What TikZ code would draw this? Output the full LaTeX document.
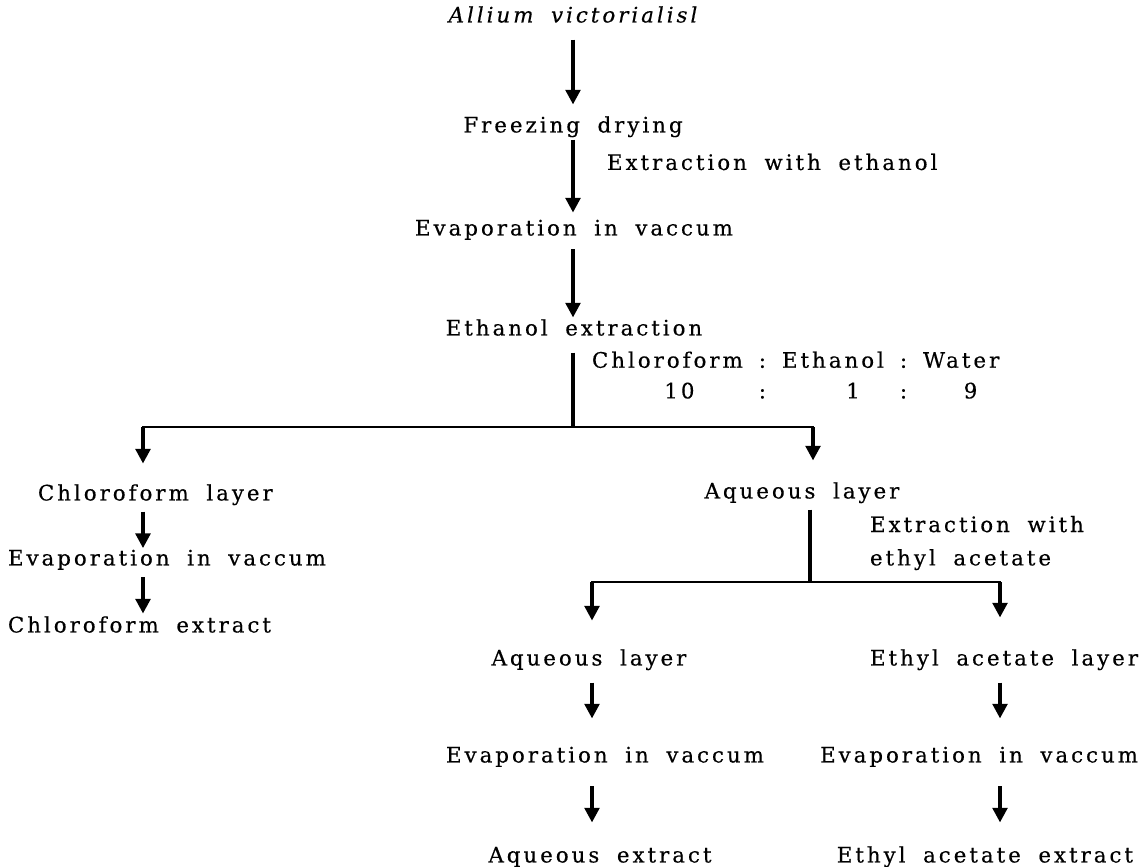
\documentclass[tikz,border=0pt]{standalone}
\usepackage{fontspec}
\setmainfont{DejaVu Serif}[LetterSpace=14,WordSpace=1.8,FakeBold=0.4]
\usetikzlibrary{arrows.meta,positioning}

\tikzset{
  stage/.style={inner sep=0pt, outer sep=0pt, text height=12pt, text depth=3.8pt},
  note/.style={inner sep=0pt, outer sep=0pt, align=left},
  flow/.style={line width=2.6pt, -{Triangle[width=11pt,length=11pt]}},
  feed/.style={line width=2.6pt},
  branch/.style={line width=1.8pt, line cap=rect}
}

\begin{document}
\begin{tikzpicture}[x=0.75pt,y=-0.75pt,font=\fontsize{16}{19}\selectfont]
   \useasboundingbox (0,0) rectangle (1142,867);
   \node[stage] (src) at (573,17) {\itshape Allium victorialisl};
   \node[stage] (frz) at (573,127) {Freezing drying};
   \node[stage] (evp) at (574,230) {Evaporation in vaccum};
   \node[stage] (eth) at (574,330) {Ethanol extraction};
   \node[note,anchor=west] (solv) at (607,162) {Extraction with ethanol};
   \node[note,anchor=west] (ratio) at (592,378)
     {\begin{tabular}{@{}c@{\hspace{12pt}}c@{\hspace{12pt}}c@{\hspace{12pt}}c@{\hspace{12pt}}c@{}}
      Chloroform & : & Ethanol & : & Water\\[4pt]
      \hspace{18pt}10 & : & \hspace{30pt}1 & : & \hspace{14pt}9
      \end{tabular}};
   \node[stage,anchor=west] (cl) at (38,495) {Chloroform layer};
   \node[stage,anchor=west] (ce) at (8,560) {Evaporation in vaccum};
   \node[stage,anchor=west] (cx) at (8,627) {Chloroform extract};
   \node[stage] (aq) at (802,493) {Aqueous layer};
   \node[note,anchor=west] (solv2) at (870,543) {Extraction with\\[6pt]ethyl acetate};
   \node[stage] (aql) at (589,660) {Aqueous layer};
   \node[stage] (avp) at (605,757) {Evaporation in vaccum};
   \node[stage] (axt) at (600,857) {Aqueous extract};
   \node[stage,anchor=east] (eal) at (1138,660) {Ethyl acetate layer};
   \node[stage,anchor=east] (evr) at (1138,757) {Evaporation in vaccum};
   \node[stage,anchor=east] (ext) at (1133,857) {Ethyl acetate extract};
   \coordinate (mx) at (573,0);
   \coordinate (sp) at (573,427);
   \coordinate (spl) at (143,427);
   \coordinate (spr) at (813,427);
   \coordinate (sp2) at (810,582);
   \coordinate (sl2) at (592,582);
   \coordinate (sr2) at (1000,582);
   \draw[flow,shorten <=9pt,shorten >=9pt] (src.south -| mx) -- (frz.north -| mx);
   \draw[flow,shorten <=1.5pt,shorten >=5.2pt] (frz.south -| mx) -- (evp.north -| mx);
   \draw[flow,shorten <=6.7pt,shorten >=1.5pt] (evp.south -| mx) -- (eth.north -| mx);
   \draw[feed,shorten <=9pt] (eth.south -| mx) -- (sp);
   \draw[branch] (spl) -- (spr);
   \draw[flow,shorten >=15.7pt] (spl) -- (cl.north -| spl);
   \draw[flow,shorten <=4.5pt,shorten >=1pt] (cl.south -| spl) -- (ce.north -| spl);
   \draw[flow,shorten <=5.2pt,shorten >=2.2pt] (ce.south -| spl) -- (cx.north -| spl);
   \draw[flow,shorten >=16.5pt] (spr) -- (aq.north -| spr);
   \draw[feed,shorten <=4.5pt] (aq.south -| sp2) -- (sp2);
   \draw[branch] (sl2) -- (sr2);
   \draw[flow,shorten >=21.7pt] (sl2) -- (aql.north -| sl2);
   \draw[flow,shorten <=9pt,shorten >=21pt] (aql.south -| sl2) -- (avp.north -| sl2);
   \draw[flow,shorten <=14.2pt,shorten >=18pt] (avp.south -| sl2) -- (axt.north -| sl2);
   \draw[flow,shorten >=24pt] (sr2) -- (eal.north -| sr2);
   \draw[flow,shorten <=9pt,shorten >=21pt] (eal.south -| sr2) -- (evr.north -| sr2);
   \draw[flow,shorten <=14.2pt,shorten >=18pt] (evr.south -| sr2) -- (ext.north -| sr2);
\end{tikzpicture}
\end{document}
